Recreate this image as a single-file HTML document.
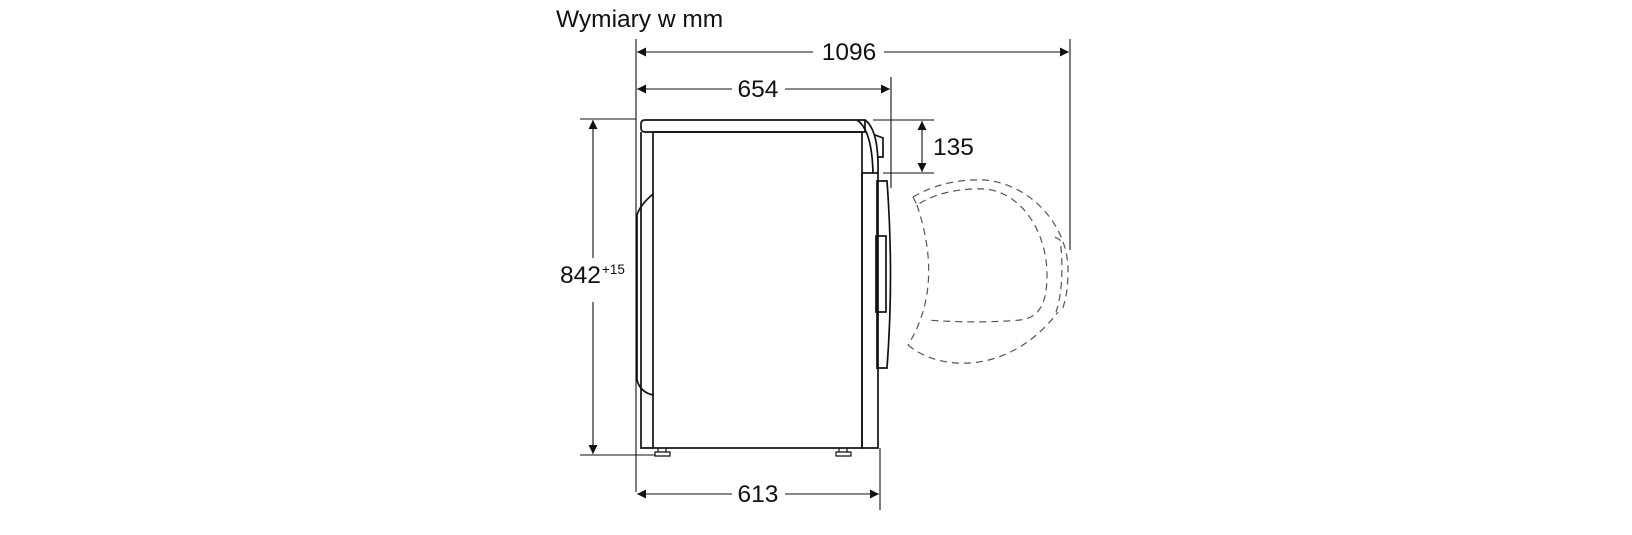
<!DOCTYPE html>
<html><head><meta charset="utf-8"><style>
html,body{margin:0;padding:0;background:#fff}
svg{display:block}
text{font-family:"Liberation Sans",sans-serif;fill:#111}
</style></head><body>
<svg width="1632" height="535" viewBox="0 0 1632 535" xmlns="http://www.w3.org/2000/svg">
<defs>
<marker id="a" viewBox="0 0 10 10" refX="10" refY="5" markerWidth="15" markerHeight="9" markerUnits="userSpaceOnUse" orient="auto-start-reverse"><path d="M0,0 L10,5 L0,10 z" fill="#111"/></marker>
</defs>
<text x="556" y="27" font-size="24.5">Wymiary w mm</text>
<g stroke="#111" stroke-width="1.1" fill="none">
<line x1="636" y1="39" x2="636" y2="492"/>
<line x1="1070" y1="39" x2="1070" y2="250"/>
<line x1="891" y1="77" x2="891" y2="188"/>
<line x1="880" y1="448" x2="880" y2="510"/>
<line x1="580" y1="119" x2="636" y2="119"/>
<line x1="580" y1="455" x2="655" y2="455"/>
<line x1="873" y1="120" x2="934" y2="120"/>
<line x1="883" y1="173" x2="934" y2="173"/>
<line x1="637" y1="52" x2="813" y2="52" marker-start="url(#a)"/>
<line x1="884" y1="52" x2="1069" y2="52" marker-end="url(#a)"/>
<line x1="637" y1="89" x2="732" y2="89" marker-start="url(#a)"/>
<line x1="785" y1="89" x2="890" y2="89" marker-end="url(#a)"/>
<line x1="637" y1="494" x2="732" y2="494" marker-start="url(#a)"/>
<line x1="785" y1="494" x2="879" y2="494" marker-end="url(#a)"/>
<line x1="593" y1="120" x2="593" y2="258" marker-start="url(#a)"/>
<line x1="593" y1="302" x2="593" y2="454" marker-end="url(#a)"/>
<line x1="922" y1="121" x2="922" y2="172" marker-start="url(#a)" marker-end="url(#a)"/>
</g>
<text x="849" y="60" font-size="24.5" text-anchor="middle">1096</text>
<text x="758" y="97" font-size="24.5" text-anchor="middle">654</text>
<text x="758" y="502" font-size="24.5" text-anchor="middle">613</text>
<text x="933" y="155" font-size="24.5">135</text>
<text x="560" y="283" font-size="24.5">842</text>
<text x="602" y="274" font-size="13.5">+15</text>
<g stroke="#111" stroke-width="1.7" fill="none">
<path d="M645,120 L865,120 L865,132 L645,132 Q641,132 641,128 L641,124 Q641,120 645,120 z"/>
<rect x="653" y="132" width="209" height="316"/>
<path d="M641,132 L641,448 L653,448"/>
<path d="M653,194 Q640,205 637,215 L637,380 Q640,392 653,395"/>
<path d="M857,120 Q872,130 873,173 M865,120 Q879,130 878,173"/>
<path d="M875,135 L883,138 L883,157 L878,157"/>
<rect x="862" y="173" width="16" height="275"/>
<path d="M877,181 L887,181 Q894,275 887,368 L877,368 z"/>
<rect x="876" y="236" width="10" height="76"/>
<path d="M658,448 L658,452 M666,448 L666,452 M655,452 L670,452 L670,456 L655,456 z" stroke-width="1.2"/>
<path d="M839,448 L839,452 M847,448 L847,452 M836,452 L851,452 L851,456 L836,456 z" stroke-width="1.2"/>
</g>
<g stroke="#555" stroke-width="1.2" fill="none" stroke-dasharray="7,5">
<path d="M913,197 C935,184 960,179 985,180 C1030,184 1068,225 1068,270 C1068,288 1066,300 1062,310"/>
<path d="M1055,237 L1060,240 C1063,260 1063,292 1056,312"/>
<path d="M913,197 L917,205 C935,193 960,188 985,189 C1020,192 1047,230 1047,275 C1047,302 1040,318 1020,320 C990,323 950,322 928,320"/>
<path d="M917,205 C932,250 936,300 908,345"/>
<path d="M908,345 C940,372 1010,375 1058,312"/>
</g>
</svg>
</body></html>
